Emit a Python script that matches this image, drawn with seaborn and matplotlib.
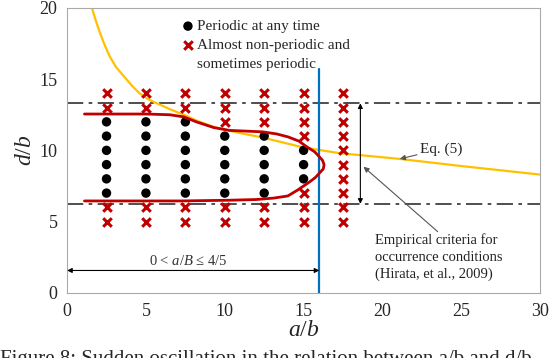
import numpy as np
import pandas as pd
import matplotlib
matplotlib.use("Agg")
import matplotlib.pyplot as plt
import seaborn as sns
from matplotlib.ticker import MultipleLocator
from matplotlib.lines import Line2D

# ---- data ----
col_x = [2.5, 5, 7.5, 10, 12.5, 15, 17.5]
periodic_d = {
    2.5: [7, 8, 9, 10, 11, 12],
    5: [7, 8, 9, 10, 11, 12],
    7.5: [7, 8, 9, 10, 11, 12],
    10: [7, 8, 9, 10, 11],
    12.5: [7, 8, 9, 10, 11],
    15: [8, 9, 10],
    17.5: [],
}
nonperiodic_d = {
    2.5: [5, 6, 13, 14],
    5: [5, 6, 13, 14],
    7.5: [5, 6, 13, 14],
    10: [5, 6, 12, 13, 14],
    12.5: [5, 6, 12, 13, 14],
    15: [5, 6, 7, 11, 12, 13, 14],
    17.5: [5, 6, 7, 8, 9, 10, 11, 12, 13, 14],
}
eq5_x = [1.6, 1.85, 2.1, 2.4, 2.7, 3.1, 3.6, 4.1, 4.6, 5.2, 5.9, 6.6, 7.4, 8.3, 9.3, 10.8,
         12.4, 13.7, 15.0, 17.3, 21.1, 25.0, 30.0]
eq5_y = [19.9, 19.0, 18.2, 17.35, 16.6, 15.85, 15.2, 14.55, 14.0, 13.55, 13.2, 12.85, 12.5,
         12.05, 11.65, 11.25, 10.9, 10.55, 10.2, 9.8, 9.4, 8.9, 8.3]
bound_x = [1.1, 3.0, 5.0, 6.5, 7.4, 8.2, 9.3, 10.3, 12.4, 13.3, 14.0, 14.7, 15.2, 15.7, 16.0,
           16.2, 16.3, 16.25, 16.0, 15.75, 15.4, 15.0, 14.6, 14.0, 13.1, 12.0, 10.3, 7.2,
           4.0, 1.1]
bound_y = [12.55, 12.55, 12.55, 12.5, 12.35, 12.0, 11.6, 11.4, 11.3, 11.15, 10.95, 10.65,
           10.25, 9.9, 9.55, 9.3, 9.0, 8.7, 8.4, 8.1, 7.8, 7.5, 7.2, 6.8, 6.65, 6.55, 6.5,
           6.45, 6.45, 6.45]
upper_limit = 13.3
lower_limit = 6.25
ab_limit = 16

pts = []
for x in col_x:
    for d in periodic_d[x]:
        pts.append((x, d, "Periodic at any time"))
    for d in nonperiodic_d[x]:
        pts.append((x, d, "Almost non-periodic and"))
df = pd.DataFrame(pts, columns=["ab", "db", "kind"])

sns.set_style("white")
plt.rcParams["font.family"] = ["Liberation Serif", "DejaVu Serif"]
plt.rcParams["mathtext.fontset"] = "custom"
plt.rcParams["mathtext.it"] = "Liberation Serif:italic"
plt.rcParams["mathtext.rm"] = "Liberation Serif"

fig = plt.figure(figsize=(5.5, 3.58), dpi=100)
ax = fig.add_axes([0.122, 0.182, 0.860, 0.796])

red = "#C00000"
gold = "#FFC000"
blue = "#0070C0"
gray = "#404040"

# reference lines
for yv in (upper_limit, lower_limit):
    ax.plot([0, 30], [yv, yv], color=gray, lw=1.3, dashes=[9, 3, 2, 3], zorder=1)

sns.lineplot(x=eq5_x, y=eq5_y, ax=ax, color=gold, lw=1.6, sort=False, zorder=2)
ax.plot([ab_limit, ab_limit], [0, 15.7], color=blue, lw=1.6, zorder=2)

per = df[df.kind == "Periodic at any time"]
non = df[df.kind != "Periodic at any time"]
sns.scatterplot(data=per, x="ab", y="db", ax=ax, color="black", s=46, marker="o",
                edgecolor="none", zorder=3, label="Periodic at any time")
sns.scatterplot(data=non, x="ab", y="db", ax=ax, color=red, s=38, marker="x",
                linewidth=2.2, zorder=3, label="Almost non-periodic and")
ax.plot(bound_x, bound_y, color=red, lw=2.0, zorder=4, solid_joinstyle="round")

ax.set_xlim(0, 30)
ax.set_ylim(0, 20)
ax.xaxis.set_major_locator(MultipleLocator(5))
ax.xaxis.set_minor_locator(MultipleLocator(1))
ax.yaxis.set_major_locator(MultipleLocator(5))
ax.yaxis.set_minor_locator(MultipleLocator(1))
ax.tick_params(which="both", direction="in", color="#999999", labelsize=13, pad=7)
ax.tick_params(which="major", length=4)
ax.tick_params(which="minor", length=3)
for s in ax.spines.values():
    s.set_color("#AAAAAA")
    s.set_linewidth(0.8)
ax.set_xlabel("$a/b$", fontsize=17, labelpad=0)
ax.set_ylabel("$d/b$", fontsize=17, labelpad=2)

handles, labels = ax.get_legend_handles_labels()
handles.append(Line2D([], [], linestyle="none", marker=None))
labels.append("sometimes periodic")
leg = ax.legend(handles, labels, loc="upper left", bbox_to_anchor=(0.2135, 0.997),
                frameon=False, fontsize=11, handletextpad=0.0, borderaxespad=0.3,
                labelspacing=0.33, handlelength=1.2)

# annotations
ax.annotate("", xy=(0, 1.57), xytext=(ab_limit, 1.57),
            arrowprops=dict(arrowstyle="<|-|>", color="black", lw=0.8, mutation_scale=7,
                            shrinkA=0, shrinkB=0))
ax.text(7.7, 2.2, "0 < $a/B$ ≤ 4/5", ha="center", va="center", fontsize=10.5, color="#333333")
ax.annotate("", xy=(18.6, lower_limit), xytext=(18.6, upper_limit),
            arrowprops=dict(arrowstyle="<|-|>", color="black", lw=0.8, mutation_scale=7,
                            shrinkA=0, shrinkB=0))
ax.annotate("Eq. (5)", xy=(21.1, 9.4), xytext=(22.4, 10.1), fontsize=11, va="center",
            arrowprops=dict(arrowstyle="-|>", color="#555555", lw=0.8, mutation_scale=8,
                            shrinkA=0, shrinkB=0))
ax.annotate("", xy=(18.8, 8.85), xytext=(23.5, 4.3),
            arrowprops=dict(arrowstyle="-|>", color="#555555", lw=0.8, mutation_scale=8,
                            shrinkA=0, shrinkB=0))
ax.text(19.5, 4.2, "Empirical criteria for\noccurrence conditions\n(Hirata, et al., 2009)",
        ha="left", va="top", fontsize=10.5, linespacing=1.4, color="#222222")

fig.text(0.0, -0.005, "Figure 8: Sudden oscillation in the relation between a/b and d/b",
         fontsize=15, ha="left", va="center")

fig.savefig("out.png", dpi=100)
